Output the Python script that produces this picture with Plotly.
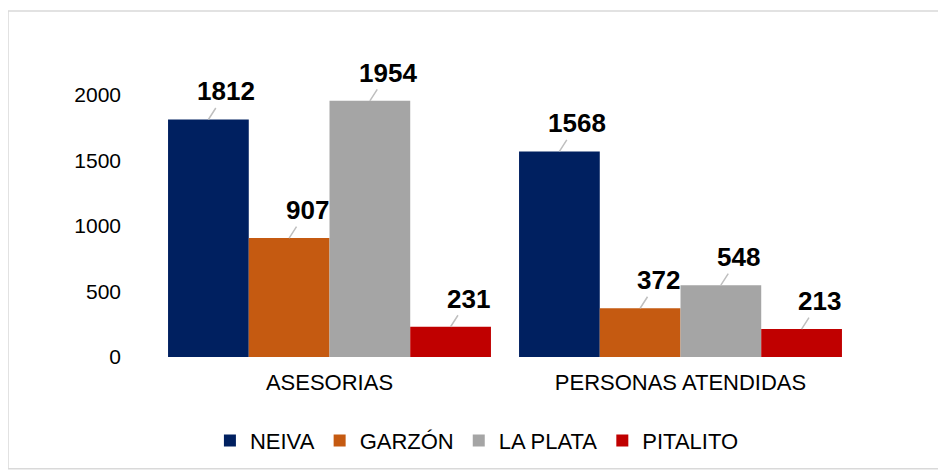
import plotly.graph_objects as go

categories = ["ASESORIAS", "PERSONAS ATENDIDAS"]
series_names = ["NEIVA", "GARZÓN", "LA PLATA", "PITALITO"]
neiva = [1812, 1568]
garzon = [907, 372]
la_plata = [1954, 548]
pitalito = [231, 213]
values = [neiva, garzon, la_plata, pitalito]
colors = ["#002060", "#C55A11", "#A5A5A5", "#C00000"]
y_ticks = [0, 500, 1000, 1500, 2000]

# page has an 8px body margin, so the figure is sized to fit the rest
W, H = 938, 464
ml, mr, mt, mb = 146, 90, 32, 114
plot_w = W - ml - mr
plot_h = H - mt - mb
bargap = 0.08
cat_w = plot_w / len(categories)
bar_w = cat_w * (1 - bargap) / len(series_names)

fig = go.Figure()
for name, vals, col in zip(series_names, values, colors):
    fig.add_trace(go.Bar(name=name, x=categories, y=vals, marker_color=col,
                         marker_line_width=0))

annotations = []
for i, (name, vals) in enumerate(zip(series_names, values)):
    off = (i - (len(series_names) - 1) / 2) * bar_w
    for c, v in zip(categories, vals):
        annotations.append(dict(
            x=c, y=v, xref="x", yref="y", xshift=off,
            text=f"<b>{v}</b>", showarrow=True, arrowhead=0, arrowwidth=1.5,
            arrowcolor="#BFBFBF", ax=18, ay=-28, standoff=0,
            font=dict(family="Liberation Sans, Arial", size=26, color="#000000"),
        ))

fig.update_layout(
    width=W, height=H,
    barmode="group", bargap=bargap, bargroupgap=0,
    paper_bgcolor="white", plot_bgcolor="white",
    margin=dict(l=ml, r=mr, t=mt, b=mb),
    font=dict(family="Liberation Sans, Arial", size=22, color="#000000"),
    xaxis=dict(showline=False, showgrid=False, ticks="", tickfont=dict(size=22),
               ticklabelstandoff=10),
    yaxis=dict(range=[0, plot_h / 263 * 2000], tickvals=y_ticks, showgrid=False,
               showline=False, zeroline=False, ticks="", ticklen=0,
               tickfont=dict(size=21), ticklabelstandoff=32),
    legend=dict(orientation="h", x=0.46, xanchor="center", y=-0.26, yanchor="middle",
                font=dict(size=22), itemwidth=30, traceorder="normal"),
    annotations=annotations,
    shapes=[dict(type="rect", xref="paper", yref="paper",
                 x0=(0 - ml) / plot_w, x1=(W - 1 - ml) / plot_w,
                 y0=-(H - 2 - (H - mb)) / plot_h,
                 y1=1 + (mt - 3) / plot_h,
                 line=dict(color="#D9D9D9", width=1.5), layer="below")],
)

fig.write_html("out.html")
